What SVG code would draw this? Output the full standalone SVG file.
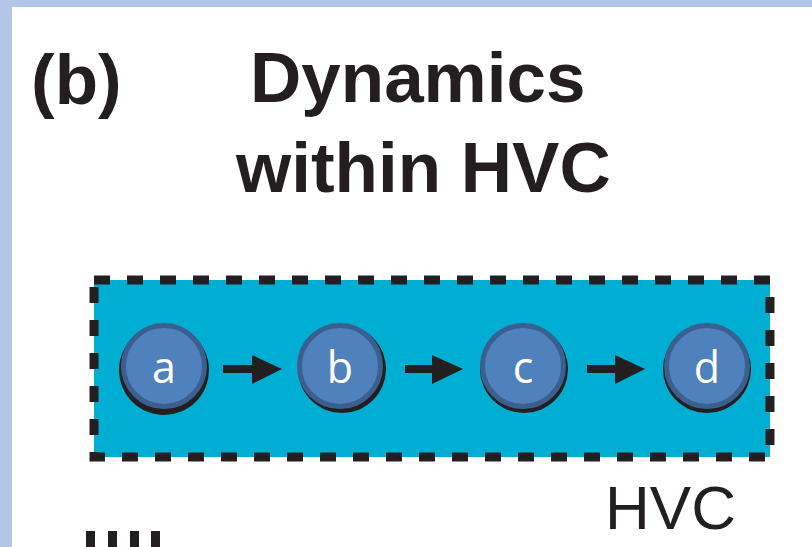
<svg xmlns="http://www.w3.org/2000/svg" width="812" height="547" viewBox="0 0 812 547">
  <style>
    .title { font-family: "Liberation Sans", Arial, sans-serif; font-weight: bold; font-size: 71px; fill: #231f20; }
    .label { font-family: "Liberation Sans", Arial, sans-serif; font-size: 62px; fill: #231f20; }
    .shadow { fill: #231f20; }
    .node { fill: #4f81bd; stroke: #3b5f8f; stroke-width: 5; }
    .ntext { font-family: "Open Sans", "Noto Sans", sans-serif; font-size: 43px; fill: #ffffff; text-anchor: middle; }
    .conn { stroke: #231f20; stroke-width: 8; fill: none; }
    .head { fill: #231f20; }
    .bar { fill: #231f20; }
  </style>
  <rect x="0" y="0" width="812" height="547" fill="#b4c6e7"/>
  <rect x="12" y="7" width="800" height="540" fill="#ffffff"/>

  <g id="title">
    <text class="title" x="31" y="104" font-size="76">(b)</text>
    <text class="title" x="250" y="102">Dynamics</text>
    <text class="title" x="236" y="192">within HVC</text>
  </g>

  <g id="hvc">
    <rect x="94" y="280" width="676" height="177" fill="#00aed4" stroke="#231f20" stroke-width="9" stroke-dasharray="16 17"/>
    <text class="label" x="605" y="529">HVC</text>
  </g>

  <g id="connectors">
    <line class="conn" x1="223" y1="369" x2="256" y2="369"/>
    <polygon class="head" points="252,355 282,369 252,384"/>
    <line class="conn" x1="405" y1="369" x2="436" y2="369"/>
    <polygon class="head" points="432,355 463,369 432,384"/>
    <line class="conn" x1="587" y1="369" x2="619" y2="369"/>
    <polygon class="head" points="615,355 645,369 615,384"/>
  </g>

  <g id="node-a">
    <circle class="shadow" cx="164" cy="370" r="45"/>
    <circle class="node" cx="164" cy="366" r="40.5"/>
    <text class="ntext" x="164" y="383">a</text>
  </g>
  <g id="node-b">
    <circle class="shadow" cx="342" cy="369" r="44"/>
    <circle class="node" cx="340" cy="366" r="40.5"/>
    <text class="ntext" x="340" y="383">b</text>
  </g>
  <g id="node-c">
    <circle class="shadow" cx="524" cy="369" r="44"/>
    <circle class="node" cx="523" cy="366" r="40.5"/>
    <text class="ntext" x="523" y="383">c</text>
  </g>
  <g id="node-d">
    <circle class="shadow" cx="707" cy="369" r="44"/>
    <circle class="node" cx="707" cy="366" r="40.5"/>
    <text class="ntext" x="707" y="383">d</text>
  </g>

  <g id="marks">
    <rect class="bar" x="86" y="531" width="9" height="16"/>
    <rect class="bar" x="108" y="531" width="9" height="16"/>
    <rect class="bar" x="130" y="531" width="9" height="16"/>
    <rect class="bar" x="151" y="531" width="9" height="16"/>
  </g>
</svg>
